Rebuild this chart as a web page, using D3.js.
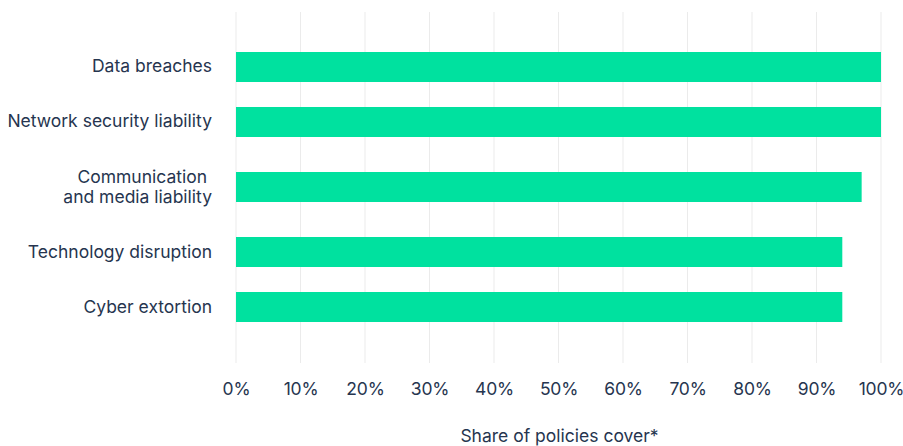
<!DOCTYPE html>
<html>
<head>
<meta charset="utf-8">
<script src="https://cdn.jsdelivr.net/npm/d3@7"></script>
<style>
  html, body { margin: 0; padding: 0; background: #ffffff; }
  svg { display: block; }
  text { font-family: Inter, "Noto Sans", sans-serif; fill: #26354f; }
</style>
</head>
<body>
<svg id="chart" width="903" height="446"></svg>
<script>
const categories = [
  ["Data breaches"],
  ["Network security liability"],
  ["Communication ", "and media liability"],
  ["Technology disruption"],
  ["Cyber extortion"]
];
const values = [100, 100, 97, 94, 94];
const xTicks = [0, 10, 20, 30, 40, 50, 60, 70, 80, 90, 100];
const xTitle = "Share of policies cover*";

const svg = d3.select("#chart");
const left = 236, right = 881, gridTop = 12, gridBottom = 363;
const fs = 17.5;

const x = d3.scaleLinear().domain([0, 100]).range([left, right]);

// slot weights: two-line labels get a taller slot
const weights = categories.map(c => c.length > 1 ? 1.364 : 1);
const cum = [0];
weights.forEach(w => cum.push(cum[cum.length - 1] + w));
const y = d3.scaleLinear().domain([0, cum[cum.length - 1]]).range([39.5, 334.5]);
const centers = weights.map((w, i) => y(cum[i] + w / 2));
const barH = 30;

// gridlines
svg.append("g").selectAll("line").data(xTicks).join("line")
  .attr("x1", d => x(d)).attr("x2", d => x(d))
  .attr("y1", gridTop).attr("y2", gridBottom)
  .attr("stroke", "#ebebeb").attr("stroke-width", 1);

// bars
svg.append("g").selectAll("rect").data(values).join("rect")
  .attr("x", x(0))
  .attr("y", (d, i) => centers[i] - barH / 2)
  .attr("width", d => x(d) - x(0))
  .attr("height", barH)
  .attr("fill", "#00e19f");

// category labels (one text element per line)
const lh = 20;
const lines = [];
categories.forEach((c, i) => c.forEach((line, j) => {
  lines.push({ text: line, y: centers[i] - 1 + (j - (c.length - 1) / 2) * lh });
}));
svg.append("g").selectAll("text").data(lines).join("text")
  .attr("text-anchor", "end")
  .attr("font-size", fs)
  .attr("x", 212)
  .attr("y", d => d.y)
  .attr("dominant-baseline", "central")
  .style("white-space", "pre")
  .text(d => d.text);

// x axis tick labels
const xAxis = d3.axisBottom(x).tickValues(xTicks).tickFormat(d => d + "%").tickSize(0).tickPadding(0);
const ax = svg.append("g").attr("transform", `translate(0,${389})`).call(xAxis);
ax.select(".domain").remove();
ax.selectAll("text")
  .attr("font-size", fs)
  .attr("dy", "0.35em")
  .attr("letter-spacing", -0.2)
  .style("font-family", "Inter, 'Noto Sans', sans-serif")
  .attr("fill", "#26354f");

// axis title
svg.append("text")
  .attr("x", (left + right) / 2 + 1).attr("y", 435)
  .attr("text-anchor", "middle")
  .attr("dominant-baseline", "central")
  .attr("font-size", fs)
  .text(xTitle);
</script>
</body>
</html>
